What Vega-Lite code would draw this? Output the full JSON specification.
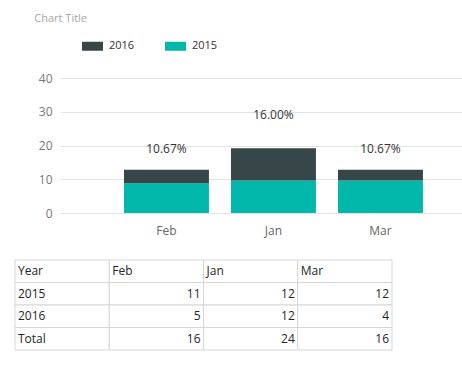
{
  "$schema": "https://vega.github.io/schema/vega-lite/v6.json",
  "padding": {"left": 14, "top": 13, "right": 0, "bottom": 0},
  "spacing": 23,
  "config": {
    "font": "Open Sans",
    "view": {"stroke": null},
    "text": {"font": "Open Sans"}
  },
  "datasets": {
    "bars": [
      {"month": "Feb", "year": "2015", "value": 8.8},
      {"month": "Feb", "year": "2016", "value": 4.0},
      {"month": "Jan", "year": "2015", "value": 9.6},
      {"month": "Jan", "year": "2016", "value": 9.6},
      {"month": "Mar", "year": "2015", "value": 9.6},
      {"month": "Mar", "year": "2016", "value": 3.2}
    ],
    "labels": [
      {"month": "Feb", "pct": "10.67%", "at": 19},
      {"month": "Jan", "pct": "16.00%", "at": 29},
      {"month": "Mar", "pct": "10.67%", "at": 19}
    ],
    "cells": [
      {"row": "Year", "col": "Year", "text": "Year", "right": false},
      {"row": "Year", "col": "Feb", "text": "Feb", "right": false},
      {"row": "Year", "col": "Jan", "text": "Jan", "right": false},
      {"row": "Year", "col": "Mar", "text": "Mar", "right": false},
      {"row": "2015", "col": "Year", "text": "2015", "right": false},
      {"row": "2015", "col": "Feb", "text": "11", "right": true},
      {"row": "2015", "col": "Jan", "text": "12", "right": true},
      {"row": "2015", "col": "Mar", "text": "12", "right": true},
      {"row": "2016", "col": "Year", "text": "2016", "right": false},
      {"row": "2016", "col": "Feb", "text": "5", "right": true},
      {"row": "2016", "col": "Jan", "text": "12", "right": true},
      {"row": "2016", "col": "Mar", "text": "4", "right": true},
      {"row": "Total", "col": "Year", "text": "Total", "right": false},
      {"row": "Total", "col": "Feb", "text": "16", "right": true},
      {"row": "Total", "col": "Jan", "text": "24", "right": true},
      {"row": "Total", "col": "Mar", "text": "16", "right": true}
    ]
  },
  "vconcat": [
    {
      "width": 402,
      "height": 135,
      "title": {"text": "Chart Title", "anchor": "start", "dx": -4, "fontSize": 11, "fontWeight": "normal", "color": "#a6a6a6", "offset": 48},
      "layer": [
        {
          "data": {"name": "bars"},
          "mark": {"type": "bar"},
          "encoding": {
            "x": {"field": "month", "type": "nominal", "sort": ["Feb", "Jan", "Mar"],
                  "scale": {"paddingInner": 0.206, "paddingOuter": 0.4815, "align": 0.621},
                  "axis": {"title": null, "domain": false, "ticks": false, "labelAngle": 0, "labelFontSize": 12, "labelColor": "#666666", "labelPadding": 12}},
            "y": {"field": "value", "type": "quantitative", "stack": "zero",
                  "scale": {"domain": [0, 40]},
                  "axis": {"title": null, "domain": false, "ticks": false, "values": [0, 10, 20, 30, 40], "labelOverlap": false, "labelFontSize": 12, "labelColor": "#777777", "labelPadding": 8, "gridColor": "#e3e3e3"}},
            "color": {"field": "year", "type": "nominal",
                      "scale": {"domain": ["2016", "2015"], "range": ["#374649", "#01B8AA"]},
                      "legend": {"orient": "none", "legendX": 22, "legendY": -42.5, "direction": "horizontal", "title": null,
                                 "symbolType": "M-1,-0.4286H1V0.4286H-1Z", "symbolSize": 441, "symbolStrokeWidth": 0, "symbolOpacity": 1,
                                 "labelFontSize": 11, "labelColor": "#333333", "columnPadding": 30, "labelOffset": 6}},
            "order": {"field": "year", "sort": "ascending"}
          }
        },
        {
          "data": {"name": "labels"},
          "mark": {"type": "text", "fontSize": 12, "color": "#333333"},
          "encoding": {
            "x": {"field": "month", "type": "nominal", "sort": ["Feb", "Jan", "Mar"],
                  "axis": {"title": null, "domain": false, "ticks": false, "labelAngle": 0, "labelFontSize": 12, "labelColor": "#666666", "labelPadding": 12}},
            "y": {"field": "at", "type": "quantitative",
                  "axis": {"title": null, "domain": false, "ticks": false, "values": [0, 10, 20, 30, 40], "labelOverlap": false, "labelFontSize": 12, "labelColor": "#777777", "labelPadding": 8, "gridColor": "#e3e3e3"}},
            "text": {"field": "pct"}
          }
        }
      ]
    },
    {
      "width": 377,
      "height": 90,
      "data": {"name": "cells"},
      "layer": [
        {
          "mark": {"type": "rect", "fill": "white", "stroke": "#d6d6d6", "strokeWidth": 1},
          "encoding": {
            "x": {"field": "col", "type": "nominal", "sort": null, "scale": {"paddingInner": 0, "paddingOuter": 0, "range": [-45, 332]}, "axis": null},
            "y": {"field": "row", "type": "nominal", "sort": null, "scale": {"paddingInner": 0, "paddingOuter": 0}, "axis": null}
          }
        },
        {
          "transform": [{"filter": "!datum.right"}],
          "mark": {"type": "text", "align": "left", "dx": 3, "fontSize": 12, "color": "#252525"},
          "encoding": {
            "x": {"field": "col", "type": "nominal", "sort": null, "bandPosition": 0},
            "y": {"field": "row", "type": "nominal", "sort": null},
            "text": {"field": "text"}
          }
        },
        {
          "transform": [{"filter": "datum.right"}],
          "mark": {"type": "text", "align": "right", "dx": -3, "fontSize": 12, "color": "#252525"},
          "encoding": {
            "x": {"field": "col", "type": "nominal", "sort": null, "bandPosition": 1},
            "y": {"field": "row", "type": "nominal", "sort": null},
            "text": {"field": "text"}
          }
        }
      ]
    }
  ]
}
